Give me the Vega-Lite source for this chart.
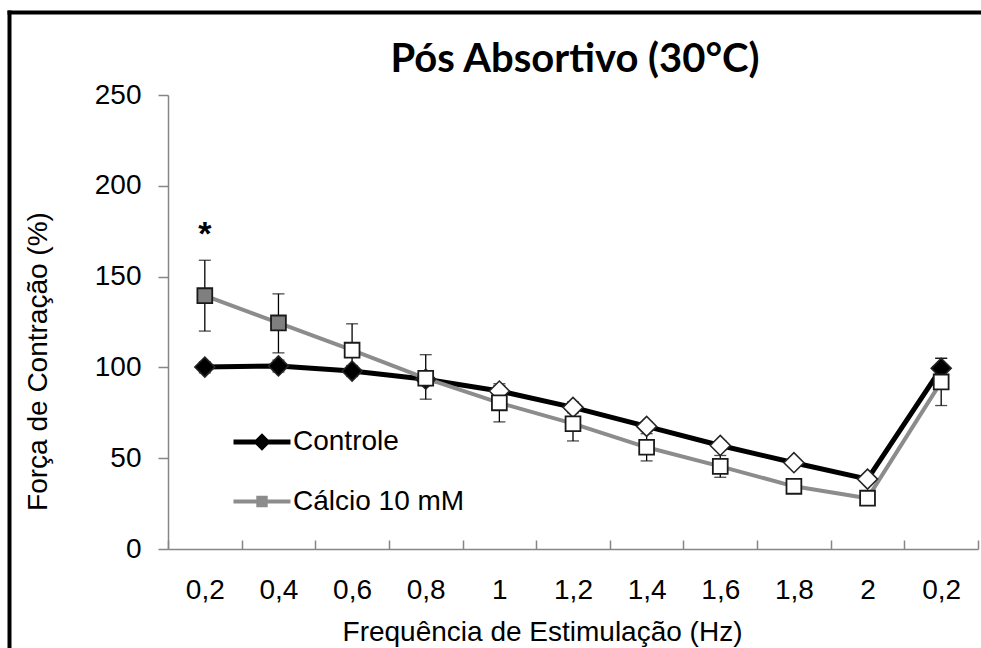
{
  "$schema": "https://vega.github.io/schema/vega-lite/v6.json",
  "width": 972,
  "height": 636,
  "autosize": {"type": "none"},
  "padding": {"left": 9, "top": 12, "right": 0, "bottom": 0},
  "background": "white",
  "config": {
    "view": {"stroke": null},
    "font": "Liberation Sans",
    "axis": {"labelFont": "Liberation Sans", "titleFont": "Liberation Sans", "grid": false}
  },
  "title": {
    "text": "Pós Absortivo (30°C)",
    "font": "Lato",
    "fontSize": 40,
    "fontWeight": "bold",
    "color": "#000000",
    "anchor": "middle",
    "frame": "group",
    "offset": 0,
    "baseline": "alphabetic",
    "dy": 100,
    "dx": 80
  },
  "datasets": {
    "medidas": [
      {"serie": "Controle", "etapa": "0,2", "valor": 100.2, "inf": 97, "sup": 103, "preenchido": true},
      {"serie": "Controle", "etapa": "0,4", "valor": 100.8, "inf": 97.5, "sup": 104, "preenchido": true},
      {"serie": "Controle", "etapa": "0,6", "valor": 98, "inf": 95, "sup": 101, "preenchido": true},
      {"serie": "Controle", "etapa": "0,8", "valor": 93.5, "inf": 90, "sup": 97, "preenchido": true},
      {"serie": "Controle", "etapa": "1", "valor": 87, "inf": 84, "sup": 90, "preenchido": false},
      {"serie": "Controle", "etapa": "1,2", "valor": 78, "inf": 75, "sup": 81, "preenchido": false},
      {"serie": "Controle", "etapa": "1,4", "valor": 67.5, "inf": 65, "sup": 70, "preenchido": false},
      {"serie": "Controle", "etapa": "1,6", "valor": 57, "inf": 54.5, "sup": 59.5, "preenchido": false},
      {"serie": "Controle", "etapa": "1,8", "valor": 47.5, "inf": 45.5, "sup": 49.5, "preenchido": false},
      {"serie": "Controle", "etapa": "2", "valor": 38.5, "inf": 36.5, "sup": 40.5, "preenchido": false},
      {"serie": "Controle", "etapa": "0,2 ", "valor": 99.5, "inf": 94, "sup": 105, "preenchido": true},
      {"serie": "Cálcio 10 mM", "etapa": "0,2", "valor": 139.5, "inf": 120, "sup": 159, "preenchido": true},
      {"serie": "Cálcio 10 mM", "etapa": "0,4", "valor": 124.5, "inf": 108, "sup": 140.5, "preenchido": true},
      {"serie": "Cálcio 10 mM", "etapa": "0,6", "valor": 109.5, "inf": 96, "sup": 124, "preenchido": false},
      {"serie": "Cálcio 10 mM", "etapa": "0,8", "valor": 94, "inf": 82.5, "sup": 107, "preenchido": false},
      {"serie": "Cálcio 10 mM", "etapa": "1", "valor": 80.5, "inf": 70, "sup": 91, "preenchido": false},
      {"serie": "Cálcio 10 mM", "etapa": "1,2", "valor": 69, "inf": 59.5, "sup": 78.5, "preenchido": false},
      {"serie": "Cálcio 10 mM", "etapa": "1,4", "valor": 56, "inf": 48.5, "sup": 63.5, "preenchido": false},
      {"serie": "Cálcio 10 mM", "etapa": "1,6", "valor": 45.5, "inf": 39.5, "sup": 51.5, "preenchido": false},
      {"serie": "Cálcio 10 mM", "etapa": "1,8", "valor": 34.5, "inf": 32, "sup": 37, "preenchido": false},
      {"serie": "Cálcio 10 mM", "etapa": "2", "valor": 28, "inf": 26, "sup": 30, "preenchido": false},
      {"serie": "Cálcio 10 mM", "etapa": "0,2 ", "valor": 92, "inf": 79, "sup": 105, "preenchido": false}
    ],
    "marcas": [
      {"etapa": "0,2", "valor": 173, "texto": "*"}
    ],
    "moldura": [
      {"mx": 0, "my": 0}
    ]
  },
  "layer": [
    {
      "layer": [
        {
          "data": {"name": "medidas"},
          "mark": {"type": "line", "strokeJoin": "round"},
          "encoding": {
            "x": {
              "field": "etapa",
              "type": "ordinal",
              "sort": ["0,2", "0,4", "0,6", "0,8", "1", "1,2", "1,4", "1,6", "1,8", "2", "0,2 "],
              "title": "Frequência de Estimulação (Hz)",
              "scale": {"type": "band", "range": [159, 969], "paddingInner": 0, "paddingOuter": 0},
              "axis": {
                "orient": "bottom",
                "offset": -99,
                "labelExpr": "trim(datum.label)",
                "tickBand": "extent",
                "tickSize": -9,
                "tickColor": "#868686",
                "tickWidth": 1.5,
                "domainColor": "#868686",
                "domainWidth": 1.5,
                "labelFontSize": 28,
                "labelColor": "#000000",
                "labelPadding": 36,
                "labelAngle": 0,
                "titleFontSize": 28,
                "titleFontWeight": "normal",
                "titleColor": "#000000",
                "titleX": 533,
                "titleY": 91,
                "titleBaseline": "alphabetic"
              }
            },
            "y": {
              "field": "valor",
              "type": "quantitative",
              "title": "Força de Contração (%)",
              "scale": {"domain": [0, 250], "range": [537, 83], "nice": false, "zero": true},
              "axis": {
                "orient": "left",
                "offset": -159,
                "values": [0, 50, 100, 150, 200, 250],
                "tickSize": 10,
                "tickColor": "#868686",
                "tickWidth": 1.5,
                "domainColor": "#868686",
                "domainWidth": 1.5,
                "labelFontSize": 28,
                "labelColor": "#000000",
                "labelPadding": 17,
                "titleFontSize": 28,
                "titleFontWeight": "normal",
                "titleColor": "#000000",
                "titleX": -130,
                "titleY": 349,
                "titleBaseline": "middle",
                "grid": false
              }
            },
            "color": {
              "field": "serie",
              "type": "nominal",
              "scale": {"domain": ["Controle", "Cálcio 10 mM"], "range": ["#000000", "#8c8c8c"]},
              "legend": {
                "orient": "none",
                "legendX": 222,
                "legendY": 399,
                "title": null,
                "padding": 0,
                "labelFont": "Liberation Sans",
                "labelFontSize": 28,
                "labelColor": "#000000",
                "labelLimit": 0,
                "labelOffset": 0,
                "rowPadding": 13,
                "symbolSize": 3249,
                "encode": {
                  "symbols": {
                    "update": {
                      "shape": {"signal": "datum.value === 'Controle' ? 'M-1,0H1M0,-0.18L0.18,0L0,0.18L-0.18,0Z' : 'M-1,0H1M-0.13,-0.13H0.13V0.13H-0.13Z'"},
                      "size": {"value": 3249},
                      "fill": {"signal": "datum.value === 'Controle' ? '#000000' : '#7f7f7f'"},
                      "stroke": {"signal": "datum.value === 'Controle' ? '#000000' : '#8c8c8c'"},
                      "strokeWidth": {"signal": "datum.value === 'Controle' ? 5 : 4"},
                      "opacity": {"value": 1},
                      "fillOpacity": {"value": 1},
                      "strokeOpacity": {"value": 1}
                    }
                  }
                }
              }
            },
            "strokeWidth": {
              "field": "serie",
              "type": "nominal",
              "scale": {"domain": ["Controle", "Cálcio 10 mM"], "range": [5, 4]},
              "legend": null
            }
          }
        },
        {
          "data": {"name": "medidas"},
          "mark": {"type": "errorbar", "ticks": {"size": 12, "color": "#000000", "thickness": 1.3}, "rule": {"color": "#000000", "strokeWidth": 1.3}},
          "encoding": {
            "x": {"field": "etapa", "type": "ordinal", "sort": ["0,2", "0,4", "0,6", "0,8", "1", "1,2", "1,4", "1,6", "1,8", "2", "0,2 "], "title": "Frequência de Estimulação (Hz)"},
            "y": {"field": "inf", "type": "quantitative", "title": "Força de Contração (%)"},
            "y2": {"field": "sup"}
          }
        },
        {
          "data": {"name": "medidas"},
          "transform": [{"filter": "datum.serie === 'Controle'"}],
          "mark": {"type": "point", "shape": "diamond", "size": 400, "filled": true, "strokeWidth": 1.6, "opacity": 1, "stroke": "#262626"},
          "encoding": {
            "x": {"field": "etapa", "type": "ordinal", "sort": ["0,2", "0,4", "0,6", "0,8", "1", "1,2", "1,4", "1,6", "1,8", "2", "0,2 "], "title": "Frequência de Estimulação (Hz)"},
            "y": {"field": "valor", "type": "quantitative", "title": "Força de Contração (%)"},
            "fill": {"condition": {"test": "datum.preenchido", "value": "#000000"}, "value": "#ffffff"}
          }
        },
        {
          "data": {"name": "medidas"},
          "transform": [{"filter": "datum.serie === 'Cálcio 10 mM'"}],
          "mark": {"type": "point", "shape": "square", "size": 220, "filled": true, "strokeWidth": 1.8, "opacity": 1, "stroke": "#1a1a1a"},
          "encoding": {
            "x": {"field": "etapa", "type": "ordinal", "sort": ["0,2", "0,4", "0,6", "0,8", "1", "1,2", "1,4", "1,6", "1,8", "2", "0,2 "], "title": "Frequência de Estimulação (Hz)"},
            "y": {"field": "valor", "type": "quantitative", "title": "Força de Contração (%)"},
            "fill": {"condition": {"test": "datum.preenchido", "value": "#7f7f7f"}, "value": "#ffffff"}
          }
        },
        {
          "data": {"name": "marcas"},
          "mark": {"type": "text", "font": "Liberation Sans", "fontSize": 34, "fontWeight": "bold", "color": "#000000", "baseline": "middle"},
          "encoding": {
            "x": {"field": "etapa", "type": "ordinal", "sort": ["0,2", "0,4", "0,6", "0,8", "1", "1,2", "1,4", "1,6", "1,8", "2", "0,2 "], "title": "Frequência de Estimulação (Hz)"},
            "y": {"field": "valor", "type": "quantitative", "title": "Força de Contração (%)"},
            "text": {"field": "texto"}
          }
        }
      ]
    },
    {
      "data": {"name": "moldura"},
      "mark": {"type": "point", "opacity": 0},
      "encoding": {
        "x": {
          "field": "mx",
          "type": "quantitative",
          "scale": {"domain": [0, 1]},
          "axis": {"orient": "top", "domainColor": "#000000", "domainWidth": 4, "domainCap": "square", "ticks": false, "labels": false, "title": null, "grid": false}
        },
        "y": {
          "field": "my",
          "type": "quantitative",
          "scale": {"domain": [0, 1]},
          "axis": {"orient": "left", "domainColor": "#000000", "domainWidth": 4, "domainCap": "square", "ticks": false, "labels": false, "title": null, "grid": false}
        }
      }
    }
  ],
  "resolve": {"scale": {"x": "independent", "y": "independent"}}
}
